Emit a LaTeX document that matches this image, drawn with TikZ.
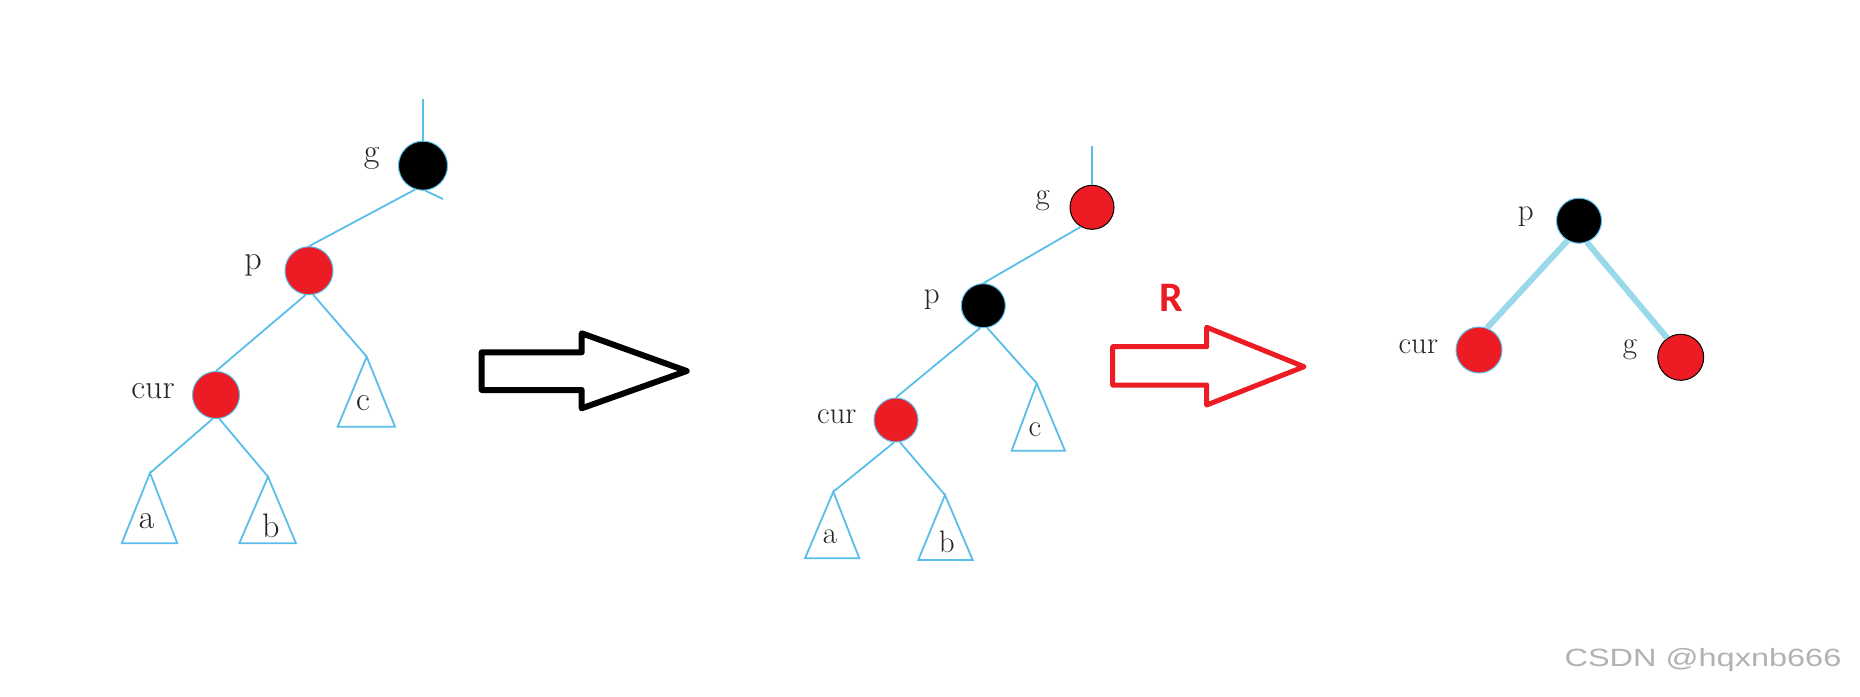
\documentclass[tikz,border=0pt]{standalone}
\usepackage{fontspec}
\newfontfamily\rfont{Carlito}
\newfontfamily\wmfont{Liberation Sans}
\definecolor{lblue}{RGB}{90,190,235}
\definecolor{pblue}{RGB}{153,217,234}
\definecolor{pred}{RGB}{237,28,36}
\definecolor{txt}{RGB}{40,35,35}
\tikzset{
  edge/.style={draw=lblue,line width=1.8pt},
  tri/.style={draw=lblue,line width=1.8pt,line join=miter},
  thick edge/.style={draw=pblue,line width=6pt},
  rednode/.style={circle,fill=pred,draw=lblue,line width=1pt,inner sep=0pt},
  blacknode/.style={circle,fill=black,draw=lblue,line width=1pt,inner sep=0pt},
  lblA/.style={text=txt,inner sep=0pt,font=\fontsize{34}{40}\selectfont},
  lblB/.style={text=txt,inner sep=0pt,font=\fontsize{31}{36}\selectfont},
  bigarrow/.style={line width=6pt,line join=round},
}
\begin{document}
\begin{tikzpicture}[x=1pt,y=-1pt]
\useasboundingbox (0,0) rectangle (1860,696);
\fill[white] (0,0) rectangle (1860,696);

% ---------- Tree 1 ----------
\node[blacknode,minimum size=49pt] (g1) at (423,165.7) {};
\node[rednode,minimum size=48pt] (p1) at (309,270.7) {};
\node[rednode,minimum size=47pt] (cur1) at (216,395) {};
\coordinate (top1) at (423,99);
\coordinate (stub1) at (443,199);
\coordinate (c1) at (366.7,356.7);
\coordinate (a1) at (150,473);
\coordinate (b1) at (268,476.7);
\draw[edge] (top1) -- (g1.north);
\draw[edge] (g1.-85) -- (stub1);
\draw[edge] (g1.-108) -- (p1.north);
\draw[edge] (p1.-98) -- (cur1.north);
\draw[edge] (p1.-80) -- (c1);
\draw[edge] (cur1.-98) -- (a1);
\draw[edge] (cur1.-82) -- (b1);
\draw[tri] (c1) -- (337.7,426.7) -- (395,426.7) -- cycle;
\draw[tri] (a1) -- (121.7,543.3) -- (177.3,543.3) -- cycle;
\draw[tri] (b1) -- (239.3,543.3) -- (296,543.3) -- cycle;
\node[lblA] (lg1) at (371.7,158) {g};
\node[lblA] (lp1) at (253,265) {p};
\node[lblA] (lcur1) at (153,391) {cur};
\node[lblA] (lc1) at (363,403) {c};
\node[lblA] (la1) at (146.7,521) {a};
\node[lblA] (lb1) at (270.7,526) {b};

% ---------- black arrow ----------
\draw[bigarrow] (481.7,352.3) -- (581.7,352.3) -- (581.7,333.3) -- (686.7,371)
  -- (581.7,408.3) -- (581.7,390) -- (481.7,390) -- cycle;

% ---------- Tree 2 ----------
\node[rednode,minimum size=44pt,draw=black] (g2) at (1092,207.3) {};
\node[blacknode,minimum size=44pt] (p2) at (983.3,305.7) {};
\node[rednode,minimum size=44pt] (cur2) at (896,420) {};
\coordinate (top2) at (1092,146);
\coordinate (c2) at (1036.7,383.3);
\coordinate (a2) at (833.3,491.7);
\coordinate (b2) at (945,495);
\draw[edge] (top2) -- (g2.north);
\draw[edge] (g2.-120) -- (p2.north);
\draw[edge] (p2.-98) -- (cur2.north);
\draw[edge] (p2.-80) -- (c2);
\draw[edge] (cur2.-95) -- (a2);
\draw[edge] (cur2.-80) -- (b2);
\draw[tri] (c2) -- (1011.7,450.7) -- (1065,450.7) -- cycle;
\draw[tri] (a2) -- (805,558.3) -- (859.3,558.3) -- cycle;
\draw[tri] (b2) -- (918.3,560) -- (972.7,560) -- cycle;
\node[lblB] (lg2) at (1042.7,201) {g};
\node[lblB] (lp2) at (931.7,300) {p};
\node[lblB] (lcur2) at (836.7,417) {cur};
\node[lblB] (lc2) at (1035,430) {c};
\node[lblB] (la2) at (830,537) {a};
\node[lblB] (lb2) at (946.7,542) {b};

% ---------- red arrow ----------
\draw[bigarrow,draw=pred,line width=5pt] (1112.7,346.7) -- (1206.7,346.7) -- (1206.7,327.3)
  -- (1304,366.7) -- (1206.7,405) -- (1206.7,385) -- (1112.7,385) -- cycle;
\node[text=pred,inner sep=0pt,font=\rfont\bfseries\fontsize{42}{48}\selectfont] (R) at (1171.7,298.3) {R};

% ---------- Tree 3 ----------
\node[blacknode,minimum size=45pt] (p3) at (1579,220.7) {};
\node[rednode,minimum size=46pt] (cur3) at (1479,350) {};
\node[rednode,minimum size=46pt,draw=black] (g3) at (1680.7,357.3) {};
\draw[thick edge] (p3.-120) -- (cur3.70);
\draw[thick edge] (p3.-70) -- (g3.125);
\node[lblB] (lp3) at (1525.7,216.5) {p};
\node[lblB] (lcur3) at (1418.3,347) {cur};
\node[lblB] (lg3) at (1630,350) {g};

% ---------- watermark ----------
\node[text=black!30,inner sep=0pt,font=\wmfont\fontsize{25}{30}\selectfont] (wm) at (1703,660)
  {\scalebox{1.3}[1]{CSDN @hqxnb666}};
\end{tikzpicture}
\end{document}
